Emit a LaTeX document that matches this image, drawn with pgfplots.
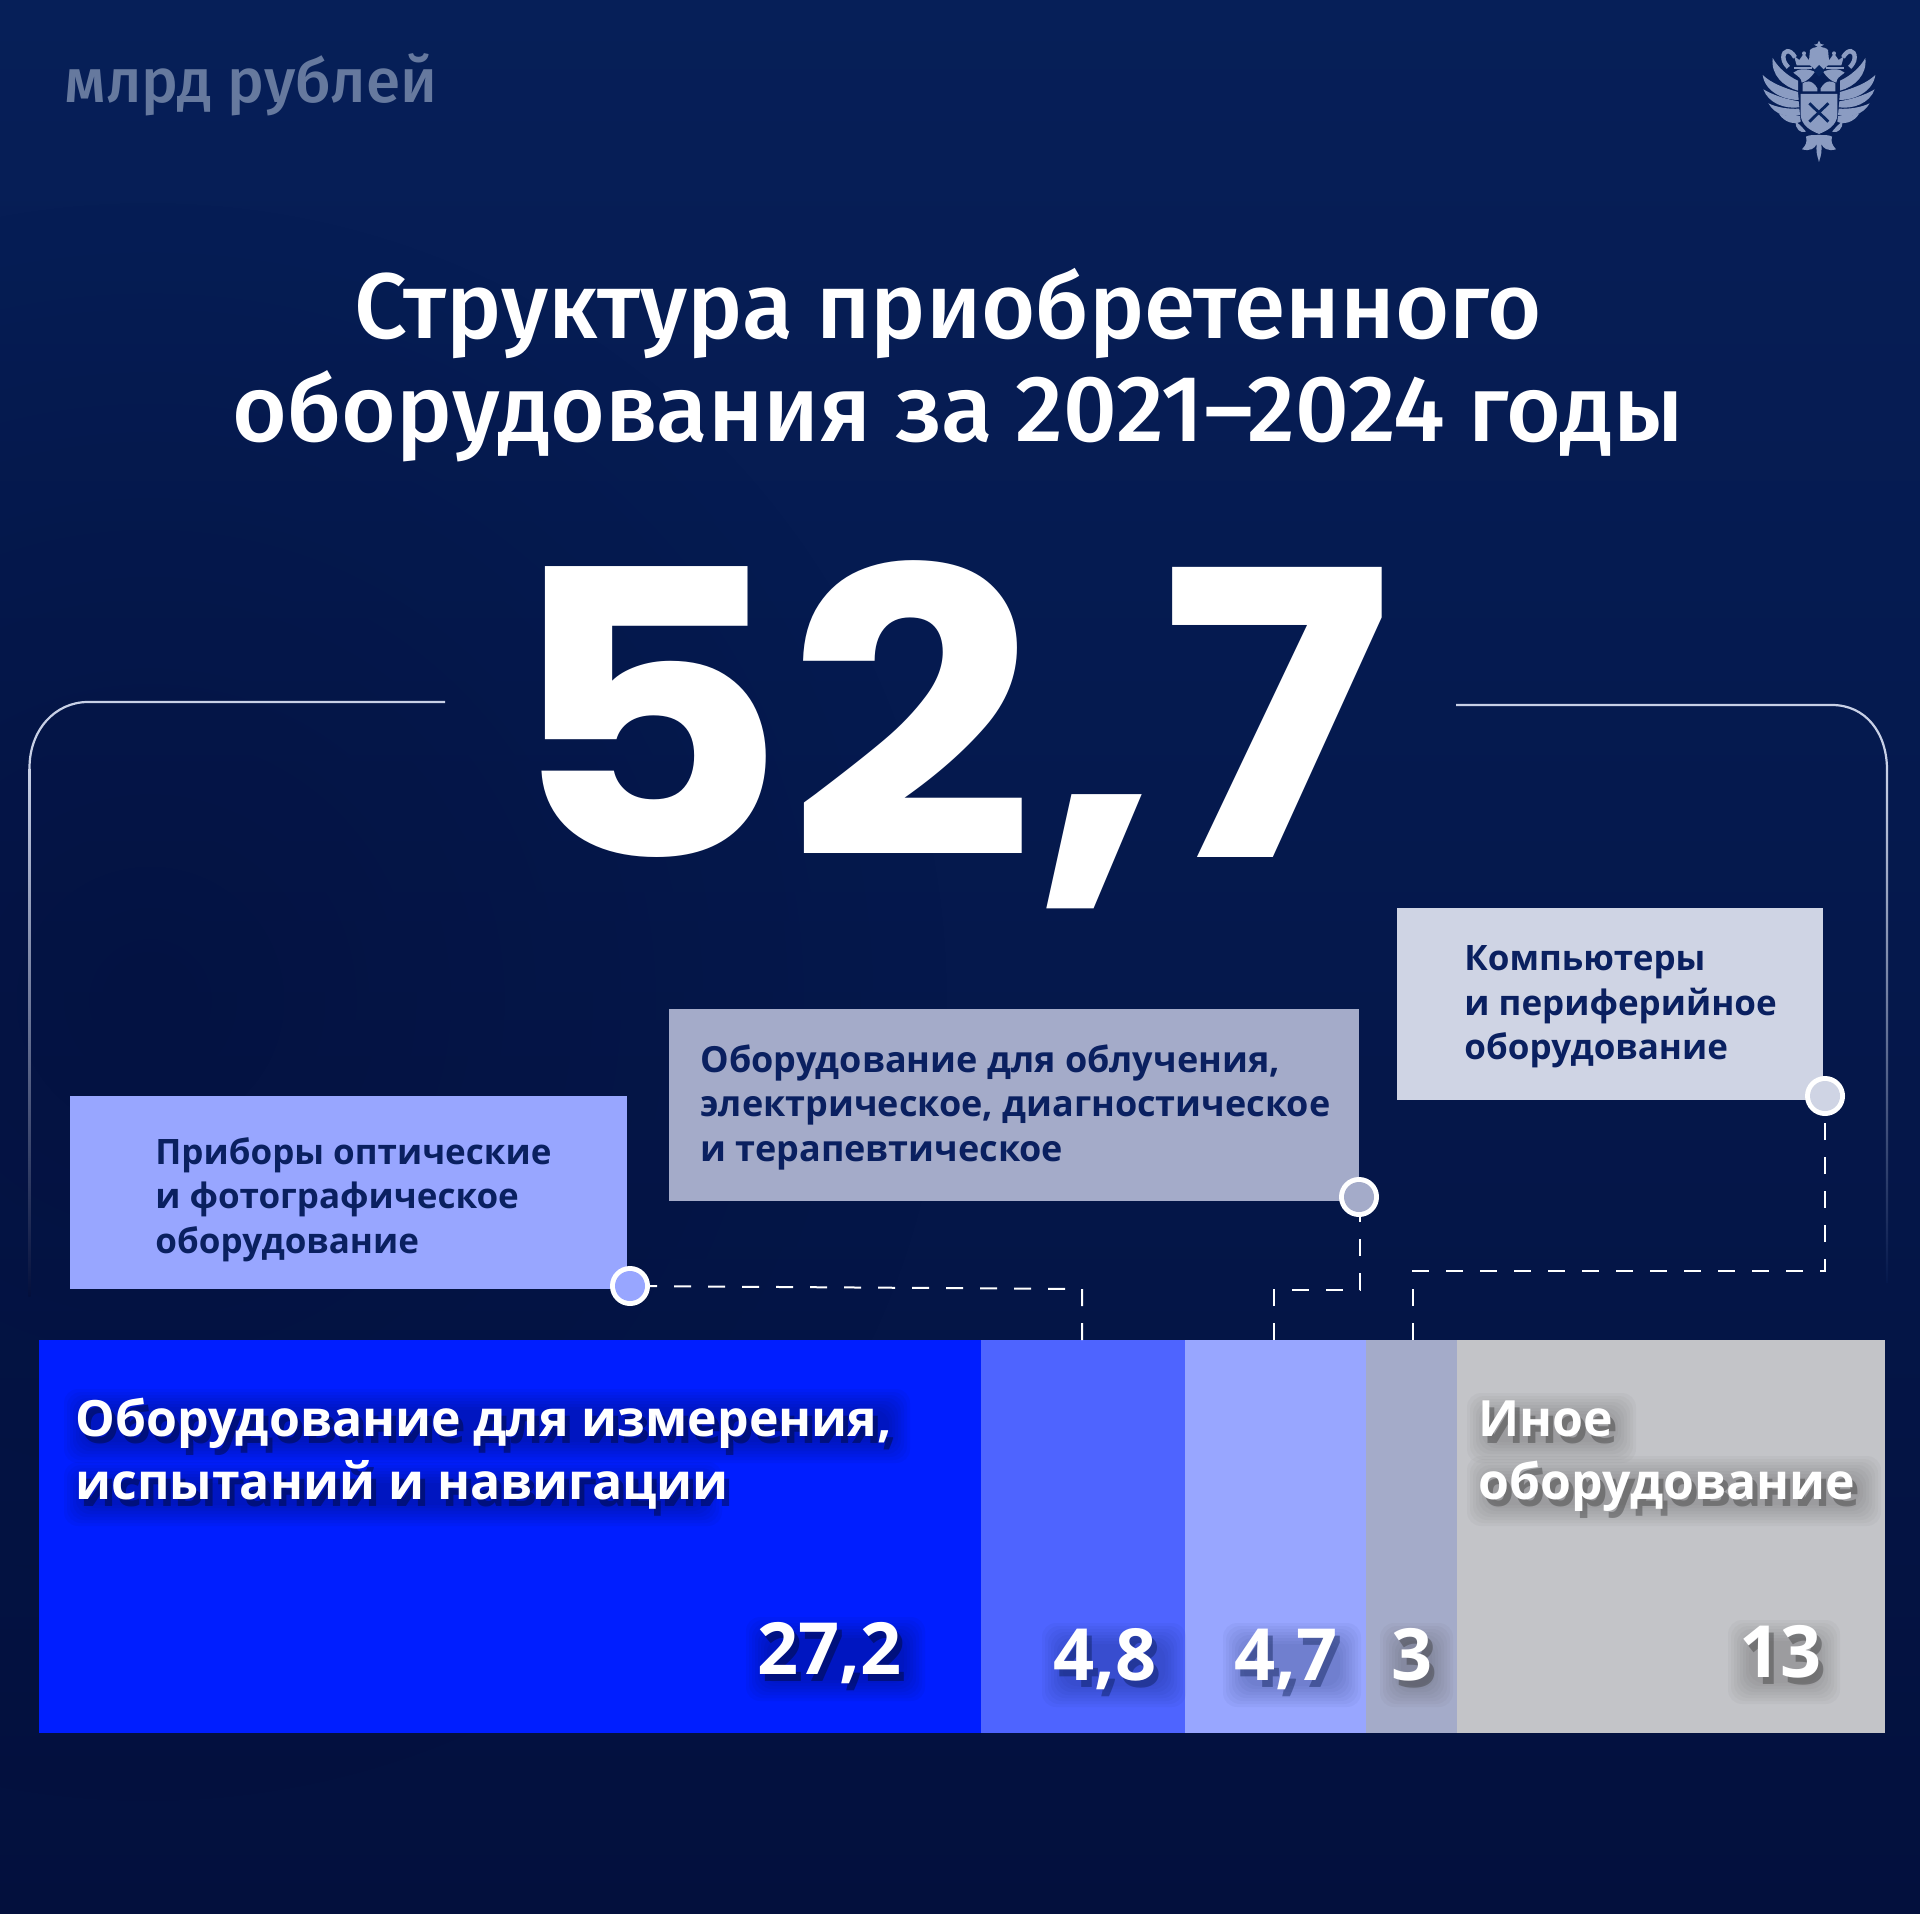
\documentclass[border=0pt]{standalone}
\usepackage{fontspec}
\usepackage{pgfplots}
\usetikzlibrary{fadings}
\tikzfading[name=softc,inner color=transparent!0,outer color=transparent!100]
\pgfplotsset{compat=1.18}
\setmainfont{Noto Sans}
\newfontfamily\med{Fira Sans Medium}
\newfontfamily\op{Open Sans}
\newfontfamily\bigf{Poppins}
\definecolor{bgtop}{HTML}{061F58}
\definecolor{bgmid}{HTML}{05184C}
\definecolor{bgbot}{HTML}{03103D}
\definecolor{bgdark}{HTML}{030F3C}
\definecolor{cA}{HTML}{001EFF}
\definecolor{cB}{HTML}{4E64FF}
\definecolor{cC}{HTML}{98A6FF}
\definecolor{cD}{HTML}{A4ABC9}
\definecolor{cE}{HTML}{C3C4C8}
\definecolor{boxc}{HTML}{CFD4E4}
\definecolor{ink}{HTML}{0A2060}
\definecolor{unit}{HTML}{66799E}
\definecolor{frame}{HTML}{C8D0E6}
\definecolor{emb}{HTML}{8B9CC2}
\definecolor{embbg}{HTML}{082560}
% plain text line: x, y(baseline), style, text
\newcommand\T[4]{\node[anchor=base west,inner sep=0pt,#3] at (#1,#2) {#4};}
% text with soft shadow: x, y, shadow colour, size, text, width, height
\newcommand\Sh[7]{%
  \foreach \r in {-4,-1,2,5,8,11,14,17}{%
    \fill[#3,opacity=.035,rounded corners=7pt] ({#1+6-\r},{#2-#7+10-\r}) rectangle ({#1+#6+6+\r},{#2+10+\r});}%
  \node[anchor=base west,inner sep=0pt,text=#3,text opacity=.4] at ({#1+5},{#2+7}) {#4\op\bfseries #5};%
  \node[anchor=base west,inner sep=0pt,text=white] at (#1,#2) {#4\op\bfseries #5};}
\newcommand\halfeagle{%
  \fill (218,114) .. controls (232,140) and (262,168) .. (294,182) -- (294,212) .. controls (250,200) and (212,165) .. (218,114) -- cycle;
  \fill (188,165) .. controls (214,190) and (255,205) .. (294,216) -- (296,240) .. controls (250,240) and (195,215) .. (188,165) -- cycle;
  \fill (190,208) .. controls (220,226) and (260,238) .. (296,244) -- (298,262) .. controls (255,268) and (205,250) .. (190,208) -- cycle;
  \fill (205,250) .. controls (230,262) and (265,268) .. (298,266) -- (300,285) .. controls (265,295) and (225,285) .. (205,250) -- cycle;
  \fill (236,280) .. controls (255,288) and (280,290) .. (300,288) -- (302,305) .. controls (285,315) and (252,308) .. (236,280) -- cycle;
  % shield half
  \fill (358,222) -- (302,222) -- (302,285) .. controls (304,315) and (330,332) .. (358,342) -- cycle;
  % neck and head
  \fill (352,205) .. controls (335,175) and (315,185) .. (308,190) -- (308,214) -- (352,214) -- cycle;
  \fill (280,158) .. controls (295,145) and (320,145) .. (345,155) .. controls (335,170) and (320,185) .. (305,188) .. controls (305,175) and (295,170) .. (280,158) -- cycle;
  % small crown
  \fill (290,136) -- (282,108) -- (298,120) -- (312,100) -- (326,120) -- (338,110) -- (332,136) -- cycle;
  \fill (312,100) circle (6);
  \fill (283,140) rectangle (335,146);
  % ribbon
  \draw[line width=2.2pt,emb] (285,112) .. controls (270,85) and (250,90) .. (250,112) .. controls (250,125) and (258,135) .. (265,142);
  % lower wing lobes
  \fill (286,305) .. controls (296,310) and (305,320) .. (318,335) .. controls (300,342) and (286,325) .. (286,305) -- cycle;
  % tail
  \fill (358,345) .. controls (340,345) and (325,345) .. (318,350) .. controls (322,365) and (318,375) .. (306,388) .. controls (330,395) and (345,385) .. (350,372) .. controls (348,390) and (350,410) .. (358,425) -- cycle;
}
\begin{document}
\begin{tikzpicture}
% background (px coordinates: 1 px = 0.5 pt, y down)
\begin{scope}[x=.5pt,y=-.5pt]
\useasboundingbox (0,0) rectangle (1920,1914);
\shade[top color=bgtop,bottom color=bgmid] (0,0) rectangle (1920,960);
\shade[top color=bgmid,bottom color=bgbot] (0,960) rectangle (1920,1914);
\begin{scope}
\clip (0,0) rectangle (1920,1914);
\fill[bgdark,opacity=.6,path fading=softc] (150,1000) circle (800);
\end{scope}
\end{scope}
% the stacked bar, its segments as wide as they are drawn
\begin{axis}[at={(19.5pt,-866.5pt)},anchor=south west,scale only axis,width=923pt,height=196.5pt,
  xmin=0,xmax=52.7,ymin=-.5,ymax=.5,hide axis,xbar stacked,bar width=196.5pt]
\addplot[fill=cA,draw=none] coordinates {(26.89,0)};
\addplot[fill=cB,draw=none] coordinates {(5.82,0)};
\addplot[fill=cC,draw=none] coordinates {(5.17,0)};
\addplot[fill=cD,draw=none] coordinates {(2.60,0)};
\addplot[fill=cE,draw=none] coordinates {(12.22,0)};
\end{axis}
\begin{scope}[x=.5pt,y=-.5pt]
% frame lines
\draw[frame,line width=1.1pt] (445,702) -- (88,702) .. controls (55,702) and (29.5,730) .. (29.5,768);
\shade[top color=frame,bottom color=bgdark] (28.4,768) rectangle (30.6,1296);
\draw[frame,line width=1.1pt] (1456,705) -- (1832,705) .. controls (1865,705) and (1887,732) .. (1887,770);
\shade[top color=frame,bottom color=bgmid] (1885.9,770) rectangle (1888.1,1282);
% header
\T{64}{103}{text=unit}{\fontsize{31}{34}\selectfont\med млрд рублей}
\node[anchor=base,inner sep=0pt,white] at (948,339) {\fontsize{46.5}{50}\selectfont\med Структура приобретенного};
\node[anchor=base,inner sep=0pt,white] at (958,442) {\fontsize{47}{50}\selectfont\med оборудования за 2021–2024 годы};
\node[anchor=base,inner sep=0pt,white] at (949,857) {\scalebox{1.09}[1]{\fontsize{199}{210}\selectfont\bigf\bfseries 52,7}};
% emblem
\begin{scope}[shift={(1700,20)},x=.5pt/3,y=-.5pt/3]
 \fill[emb] (357,62) -- (362,72) -- (372,74) -- (362,80) -- (357,90) -- (352,80) -- (342,74) -- (352,72) -- cycle;
 \fill[emb] (330,90) .. controls (340,78) and (374,78) .. (384,90) -- (388,132) -- (357,160) -- (326,132) -- cycle;
 \begin{scope}[fill=emb]\halfeagle\end{scope}
 \begin{scope}[fill=emb,shift={(714,0)},xscale=-1]\halfeagle\end{scope}
 \fill[embbg] (357,135) -- (374,152) -- (357,170) -- (340,152) -- cycle;
 \draw[embbg,line width=1.4pt] (328,250) -- (385,305);
 \draw[embbg,line width=1.4pt] (385,250) -- (328,305);
\end{scope}
% boxes
\fill[cC] (70,1096) rectangle (627,1289);
\fill[cD] (669,1009) rectangle (1359,1201);
\fill[boxc] (1397,908) rectangle (1823,1100);
% connectors, drawn from the bar upwards
\begin{scope}[white,line width=1pt,dash pattern=on 8.5pt off 8.5pt]
\draw (1082,1340) -- (1082,1289) -- (630,1286);
\draw (1274,1340) -- (1274,1290) -- (1360,1290) -- (1360,1197);
\draw (1413,1340) -- (1413,1271) -- (1825,1271) -- (1825,1096);
\end{scope}
\fill[white] (630,1286) circle (20); \fill[cC] (630,1286) circle (15);
\fill[white] (1359,1197) circle (20); \fill[cD] (1359,1197) circle (15);
\fill[white] (1825,1096) circle (20); \fill[boxc] (1825,1096) circle (15);
% box texts
\newcommand\bx{\fontsize{17.5}{20}\selectfont\op\bfseries}
\newcommand\by{\fontsize{18}{20}\selectfont\op\bfseries}
\T{155}{1164}{text=ink}{\bx Приборы оптические}
\T{155}{1208}{text=ink}{\bx и фотографическое}
\T{155}{1253}{text=ink}{\bx оборудование}
\T{700}{1072}{text=ink}{\by Оборудование для облучения,}
\T{700}{1116}{text=ink}{\by электрическое, диагностическое}
\T{700}{1161}{text=ink}{\by и терапевтическое}
\T{1464}{970}{text=ink}{\bx Компьютеры}
\T{1464}{1015}{text=ink}{\bx и периферийное}
\T{1464}{1059}{text=ink}{\bx оборудование}
% bar texts
\newcommand\bl{\fontsize{25}{28}\selectfont}
\newcommand\nm{\fontsize{36}{38}\selectfont}
\Sh{75}{1436}{black!70!bgmid}{\bl}{Оборудование для измерения,}{812}{40}
\Sh{75}{1499}{black!70!bgmid}{\bl}{испытаний и навигации}{624}{30}
\Sh{1478}{1436}{black!80}{\bl}{Иное}{135}{36}
\Sh{1478}{1499}{black!80}{\bl}{оборудование}{380}{36}
\Sh{757}{1674}{black!70!bgmid}{\nm}{27,2}{145}{50}
\Sh{1053}{1680}{bgmid}{\nm}{4,8}{110}{50}
\Sh{1234}{1680}{bgmid}{\nm}{4,7}{104}{50}
\Sh{1391}{1680}{black!80}{\nm}{3}{39}{50}
\Sh{1739}{1677}{black!80}{\nm}{13}{78}{50}
\end{scope}
\end{tikzpicture}
\end{document}
